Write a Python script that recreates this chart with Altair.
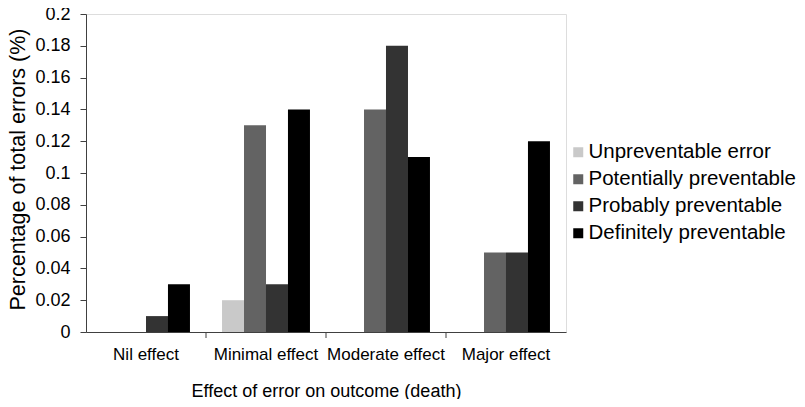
import altair as alt
import pandas as pd

categories = ["Nil effect", "Minimal effect", "Moderate effect", "Major effect"]
series = ["Unpreventable error", "Potentially preventable", "Probably preventable", "Definitely preventable"]
unpreventable = [0.0, 0.02, 0.0, 0.0]
potentially = [0.0, 0.13, 0.14, 0.05]
probably = [0.01, 0.03, 0.18, 0.05]
definitely = [0.03, 0.14, 0.11, 0.12]
colors = ["#c9c9c9", "#636363", "#333333", "#000000"]
y_ticks = [0, 0.02, 0.04, 0.06, 0.08, 0.1, 0.12, 0.14, 0.16, 0.18, 0.2]

rows = []
for s, vals in zip(series, [unpreventable, potentially, probably, definitely]):
    for c, v in zip(categories, vals):
        rows.append({"cat": c, "series": s, "value": v})
df = pd.DataFrame(rows)
bound_df = pd.DataFrame({"cat": categories[1:]})

FONT = "Liberation Sans"
AX = "#404040"

xscale = alt.Scale(domain=categories, paddingInner=0, paddingOuter=0)

bars = alt.Chart(df).mark_bar(size=22).encode(
    x=alt.X("cat:N", sort=categories, scale=xscale,
            axis=alt.Axis(title="Effect of error on outcome (death)", labelAngle=0,
                          ticks=False, domain=True, domainColor=AX,
                          labelFontSize=17, labelPadding=14, titleFontSize=18,
                          titlePadding=20, titleFontWeight="normal")),
    xOffset=alt.XOffset("series:N", sort=series,
                        scale=alt.Scale(paddingOuter=0.73, paddingInner=0)),
    y=alt.Y("value:Q", scale=alt.Scale(domain=[0, 0.2], nice=False),
            axis=alt.Axis(title="Percentage of total errors (%)", values=y_ticks,
                          format="~g", grid=False, domainColor=AX,
                          tickColor=AX, tickSize=6, labelFontSize=18,
                          labelPadding=10, titleFontSize=21.5, titleFontWeight="normal",
                          titleY=155, titleX=-62, titleAngle=270,
                          titleBaseline="alphabetic", titleAlign="center")),
    color=alt.Color("series:N", sort=series,
                    scale=alt.Scale(domain=series, range=colors),
                    legend=alt.Legend(title=None, orient="none", legendX=482, legendY=128,
                                      symbolType="square", symbolSize=100,
                                      labelFontSize=20.5, rowPadding=6, labelLimit=0,
                                      symbolStrokeWidth=0, labelOffset=0)),
)

ticks = alt.Chart(bound_df).mark_rule(color=AX, strokeWidth=1).encode(
    x=alt.X("cat:N", sort=categories, bandPosition=0),
    y=alt.value(318),
    y2=alt.value(324),
)

chart = alt.layer(bars, ticks).properties(
    width=480, height=318,
    autosize=alt.AutoSizeParams(type="none"),
    padding={"left": 78, "top": 6, "right": 231, "bottom": 67},
).configure_view(stroke=None).configure(font=FONT).configure_axis(
    labelColor="black", titleColor="black", labelFont=FONT, titleFont=FONT
).configure_legend(labelColor="black", labelFont=FONT)

chart.save("out.html", embed_options={"renderer": "svg", "actions": False})
